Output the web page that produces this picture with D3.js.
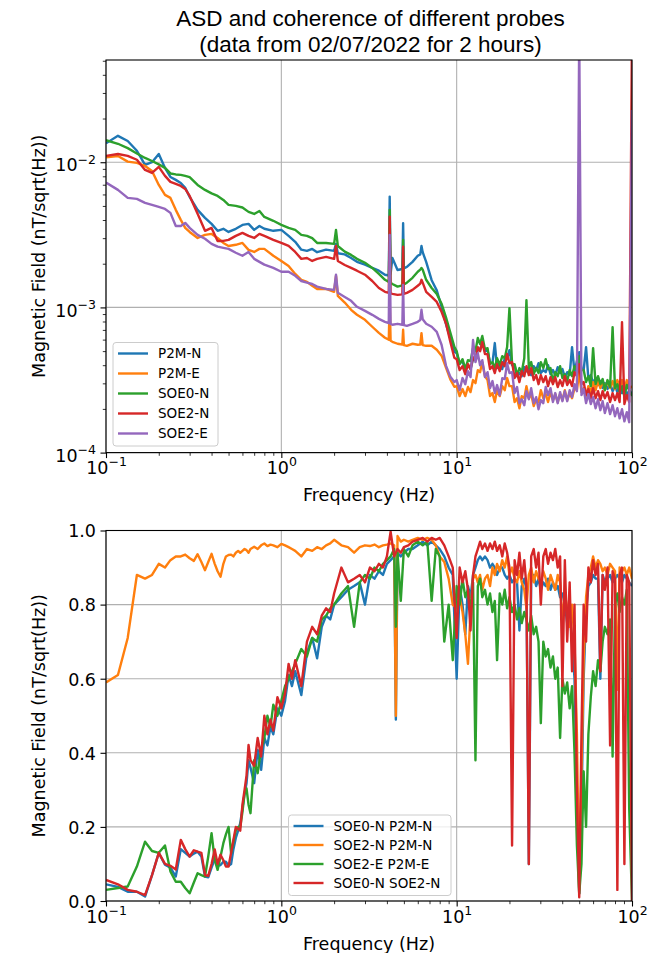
<!DOCTYPE html>
<html>
<head>
<meta charset="utf-8">
<script src="https://cdn.jsdelivr.net/npm/d3@7"></script>
<style>
  body { margin: 0; background: #fff; }
  .axis text { font-family: "DejaVu Sans", sans-serif; font-size: 17.5px; fill: #000; }
  .axis line { stroke: #000; }
  .grid line { stroke: #b0b0b0; stroke-width: 1.1px; }
  .axis_label { font-family: "DejaVu Sans", sans-serif; font-size: 17.5px; }
  .legend_label { font-family: "DejaVu Sans", sans-serif; font-size: 13.5px; }
  .title { font-family: "Liberation Sans", Arial, sans-serif; font-size: 22.5px; }
</style>
</head>
<body>
<script>
var margin = {left: 106, right: 27};
var width = 659 - margin.left - margin.right;
var topPanel = {top: 60, height: 392.6};
var botPanel = {top: 530.5, height: 370.5};

var colors = ["#1f77b4", "#ff7f0e", "#2ca02c", "#d62728", "#9467bd"];
var xTicks = [0.1, 1, 10, 100];
var asdTicks = [1e-4, 1e-3, 1e-2];
var cohTicks = [0, 0.2, 0.4, 0.6, 0.8, 1.0];

//ASD panel data (nT/sqrt(Hz))
var asdNames = ["P2M-N", "P2M-E", "SOE0-N", "SOE2-N", "SOE2-E"];
var asdFreq = [0.1, 0.117, 0.133, 0.15, 0.167, 0.183, 0.2, 0.217, 0.233, 0.25,
  0.267, 0.283, 0.3, 0.333, 0.367, 0.4, 0.433, 0.467, 0.5, 0.55,
  0.6, 0.65, 0.7, 0.75, 0.8, 0.9, 1.0, 1.1, 1.2, 1.3,
  1.4, 1.5, 1.6, 1.8, 2.0, 2.05, 2.1, 2.3, 2.5, 2.7,
  3.0, 3.3, 3.6, 3.9, 4.1, 4.15, 4.2, 4.3, 4.6, 4.9,
  4.95, 5.0, 5.2, 5.6, 6.0, 6.2, 6.3, 6.4, 6.7, 7.2,
  7.7, 8.2, 8.7, 9.2, 9.7,
  10, 10.4, 10.8, 11.2, 11.6, 12.0, 12.4, 12.8, 13.2, 13.6,
  14.0, 14.5, 15.0, 15.5, 16.0, 16.5, 17.0, 17.6, 18.2, 18.8,
  19.4, 20.0, 20.7, 21.4, 22.1, 22.8, 23.5, 24.3, 25.0, 25.8,
  26.6, 27.5, 28.4, 29.3, 30.2, 31.2, 32.2, 33.2, 34.3, 35.4,
  36.5, 37.7, 38.9, 40.1, 41.4, 42.7, 44.1, 45.5, 47.0, 48.5,
  50.0, 51.5, 53.0, 54.7, 56.4, 58.2, 60.0, 62.0, 64.0, 66.0,
  68.0, 70.0, 72.5, 75.0, 77.5, 80.0, 82.5, 85.0, 87.7, 90.5,
  93.4, 96.4, 100];
var asdP2MN = [0.0135, 0.0152, 0.0140, 0.0120, 0.00958, 0.0100, 0.0114, 0.00914, 0.00792, 0.00756,
  0.00720, 0.00666, 0.00577, 0.00470, 0.00414, 0.00376, 0.00337, 0.00348, 0.00331, 0.00348,
  0.00370, 0.00376, 0.00342, 0.00364, 0.00348, 0.00337, 0.00342, 0.00311, 0.00283, 0.00250,
  0.00245, 0.00253, 0.00240, 0.00250, 0.00245, 0.00274, 0.00236, 0.00232, 0.00219, 0.00206,
  0.00197, 0.00187, 0.00179, 0.00168, 0.00166, 0.00580, 0.00170, 0.00219, 0.00181, 0.00184,
  0.00380, 0.00186, 0.00190, 0.00206, 0.00227, 0.00232, 0.00265, 0.00240, 0.00206, 0.00154,
  0.00131, 0.00101, 0.000763, 0.000612, 0.000495,
  4.84e-4, 4.13e-4, 4.27e-4, 3.70e-4, 4.00e-4, 3.76e-4, 4.40e-4, 4.33e-4, 5.16e-4, 5.08e-4,
  5.77e-4, 5.00e-4, 5.08e-4, 4.13e-4, 4.13e-4, 5.68e-4, 3.82e-4, 4.07e-4, 3.76e-4, 4.47e-4,
  4.47e-4, 5.08e-4, 4.00e-4, 4.00e-4, 3.36e-4, 3.53e-4, 3.36e-4, 3.88e-4, 3.64e-4, 3.82e-4,
  3.42e-4, 3.94e-4, 3.70e-4, 4.13e-4, 3.53e-4, 3.70e-4, 3.58e-4, 4.00e-4, 3.47e-4, 3.70e-4,
  3.42e-4, 3.88e-4, 3.53e-4, 3.76e-4, 3.31e-4, 3.58e-4, 3.42e-4, 5.33e-4, 3.58e-4, 4.27e-4,
  4.92e-4, 3.76e-4, 3.70e-4, 5.33e-4, 3.21e-4, 3.42e-4, 3.01e-4, 3.26e-4, 2.92e-4, 3.11e-4,
  2.78e-4, 3.01e-4, 2.74e-4, 3.01e-4, 2.65e-4, 2.87e-4, 2.61e-4, 2.92e-4, 2.57e-4, 2.78e-4,
  2.49e-4, 2.69e-4, 2.53e-4];
var asdP2ME = [0.0108, 0.01105, 0.0101, 0.0099, 0.00943, 0.00871, 0.00698, 0.00596, 0.00568, 0.00470,
  0.00401, 0.00353, 0.00331, 0.00301, 0.00316, 0.00321, 0.00301, 0.00278, 0.00265, 0.00270,
  0.00278, 0.00249, 0.00241, 0.00253, 0.00253, 0.00227, 0.00209, 0.00193, 0.00170, 0.00155,
  0.00150, 0.00141, 0.00134, 0.00134, 0.00128, 0.00165, 0.00120, 0.00108, 0.000963, 0.000890,
  0.000822, 0.000736, 0.000668, 0.000618, 0.000600, 0.00113, 0.000590, 0.000580, 0.000562, 0.000555,
  0.000701, 0.000550, 0.000544, 0.000562, 0.000553, 0.000555, 0.000665, 0.000550, 0.000544, 0.000544,
  0.000511, 0.000465, 0.000384, 0.000319, 0.000284,
  2.87e-4, 2.45e-4, 2.74e-4, 2.45e-4, 2.83e-4, 2.61e-4, 3.16e-4, 3.01e-4, 3.70e-4, 3.58e-4,
  4.20e-4, 3.36e-4, 3.16e-4, 2.45e-4, 2.57e-4, 2.23e-4, 2.69e-4, 2.45e-4, 2.87e-4, 2.69e-4,
  3.26e-4, 2.87e-4, 2.87e-4, 2.23e-4, 2.37e-4, 2.02e-4, 2.45e-4, 2.37e-4, 2.87e-4, 2.37e-4,
  2.53e-4, 2.09e-4, 2.33e-4, 2.23e-4, 2.69e-4, 2.37e-4, 2.53e-4, 2.23e-4, 2.61e-4, 2.30e-4,
  2.53e-4, 2.23e-4, 2.53e-4, 2.30e-4, 2.69e-4, 2.30e-4, 2.57e-4, 2.37e-4, 2.78e-4, 2.69e-4,
  3.58e-4, 2.61e-4, 2.78e-4, 2.45e-4, 2.87e-4, 2.61e-4, 3.06e-4, 2.69e-4, 3.11e-4, 2.78e-4,
  3.11e-4, 2.69e-4, 3.11e-4, 2.78e-4, 3.11e-4, 2.74e-4, 3.16e-4, 2.83e-4, 3.16e-4, 2.74e-4,
  3.16e-4, 2.74e-4, 2.87e-4];
var asdSOE0N = [0.0142, 0.0134, 0.0125, 0.0115, 0.0107, 0.0102, 0.00966, 0.00914, 0.00837, 0.00824,
  0.00818, 0.00805, 0.00790, 0.00698, 0.00645, 0.00610, 0.00586, 0.00550, 0.00509, 0.00500,
  0.00488, 0.00455, 0.00440, 0.00462, 0.00420, 0.00395, 0.00370, 0.00353, 0.00342, 0.00316,
  0.00311, 0.00300, 0.00278, 0.00278, 0.00274, 0.00342, 0.00265, 0.00242, 0.00230, 0.00216,
  0.00203, 0.00187, 0.00170, 0.00155, 0.00150, 0.00470, 0.00148, 0.00145, 0.00139, 0.00142,
  0.00292, 0.00144, 0.00148, 0.00160, 0.00176, 0.00182, 0.00187, 0.00182, 0.00155, 0.00136,
  0.00124, 0.00106, 0.00085, 0.00067, 0.000535,
  5.00e-4, 4.07e-4, 4.40e-4, 3.76e-4, 4.33e-4, 4.27e-4, 5.24e-4, 5.00e-4, 6.16e-4, 5.59e-4,
  6.36e-4, 5.16e-4, 5.24e-4, 4.07e-4, 4.20e-4, 3.82e-4, 4.47e-4, 4.00e-4, 4.62e-4, 4.47e-4,
  5.33e-4, 9.89e-4, 4.07e-4, 4.07e-4, 3.42e-4, 3.82e-4, 3.58e-4, 4.47e-4, 11.2e-4, 3.82e-4,
  4.20e-4, 3.47e-4, 3.82e-4, 3.53e-4, 4.20e-4, 3.82e-4, 4.40e-4, 3.76e-4, 3.82e-4, 3.06e-4,
  3.58e-4, 3.36e-4, 3.94e-4, 3.26e-4, 3.47e-4, 3.11e-4, 3.70e-4, 3.36e-4, 3.94e-4, 3.70e-4,
  4.62e-4, 3.70e-4, 3.70e-4, 3.06e-4, 3.36e-4, 2.87e-4, 5.24e-4, 2.96e-4, 3.36e-4, 2.96e-4,
  3.21e-4, 2.69e-4, 3.16e-4, 2.83e-4, 7.32e-4, 2.78e-4, 2.96e-4, 2.61e-4, 2.87e-4, 2.45e-4,
  2.92e-4, 2.69e-4, 2.45e-4];
var asdSOE2N = [0.01105, 0.0114, 0.01105, 0.0104, 0.00885, 0.00844, 0.00929, 0.00805, 0.00732, 0.00710,
  0.00687, 0.00655, 0.00586, 0.00441, 0.00337, 0.00353, 0.00287, 0.00287, 0.00292, 0.00311,
  0.00326, 0.00311, 0.00301, 0.00321, 0.00311, 0.00292, 0.00278, 0.00265, 0.00241, 0.00216,
  0.00219, 0.00209, 0.00216, 0.00223, 0.00216, 0.00265, 0.00209, 0.00196, 0.00187, 0.00179,
  0.00168, 0.00152, 0.00136, 0.00128, 0.00126, 0.00422, 0.00125, 0.00124, 0.00122, 0.00123,
  0.00262, 0.00124, 0.00126, 0.00132, 0.00141, 0.00146, 0.00155, 0.00148, 0.00128, 0.00118,
  0.00109, 0.000933, 0.000771, 0.000580, 0.000450,
  4.40e-4, 3.70e-4, 3.94e-4, 3.47e-4, 4.07e-4, 3.76e-4, 4.54e-4, 4.33e-4, 5.33e-4, 5.00e-4,
  5.77e-4, 4.77e-4, 4.77e-4, 3.76e-4, 3.94e-4, 3.53e-4, 4.07e-4, 3.64e-4, 4.20e-4, 3.94e-4,
  4.77e-4, 4.13e-4, 4.20e-4, 3.26e-4, 3.53e-4, 3.06e-4, 3.64e-4, 3.36e-4, 3.94e-4, 3.42e-4,
  3.82e-4, 3.16e-4, 3.42e-4, 2.96e-4, 3.42e-4, 3.06e-4, 3.36e-4, 2.87e-4, 3.31e-4, 2.96e-4,
  3.31e-4, 2.83e-4, 3.16e-4, 2.87e-4, 3.36e-4, 2.92e-4, 3.16e-4, 2.87e-4, 3.58e-4, 3.36e-4,
  4.07e-4, 2.96e-4, 3.06e-4, 2.49e-4, 2.74e-4, 2.37e-4, 2.78e-4, 2.37e-4, 2.65e-4, 2.30e-4,
  2.65e-4, 2.37e-4, 2.61e-4, 2.23e-4, 2.57e-4, 2.30e-4, 2.57e-4, 2.23e-4, 7.92e-4, 2.16e-4,
  2.49e-4, 2.23e-4, 0.08];
var asdSOE2E = [0.00724, 0.00645, 0.00568, 0.00559, 0.00525, 0.00508, 0.00492, 0.00477, 0.00448, 0.00364,
  0.00364, 0.00382, 0.00353, 0.00316, 0.00297, 0.00274, 0.00262, 0.00257, 0.00253, 0.00238,
  0.00227, 0.00241, 0.00216, 0.00206, 0.00197, 0.00187, 0.00176, 0.00176, 0.00165, 0.00152,
  0.00148, 0.00145, 0.00139, 0.00134, 0.00132, 0.00168, 0.00126, 0.00118, 0.00111, 0.00101,
  0.000947, 0.000889, 0.000834, 0.000796, 0.00078, 0.00316, 0.00077, 0.000759, 0.000771, 0.00076,
  0.00143, 0.000755, 0.000747, 0.000771, 0.000796, 0.00082, 0.000963, 0.00083, 0.000771, 0.000736,
  0.000678, 0.000553, 0.000396, 0.000333, 0.000306,
  3.16e-4, 2.69e-4, 3.26e-4, 2.96e-4, 3.64e-4, 3.31e-4, 5.96e-4, 4.20e-4, 4.84e-4, 4.00e-4,
  4.33e-4, 3.31e-4, 3.58e-4, 2.78e-4, 3.11e-4, 2.57e-4, 2.92e-4, 2.49e-4, 3.26e-4, 3.21e-4,
  4.13e-4, 3.53e-4, 3.58e-4, 2.57e-4, 2.83e-4, 2.19e-4, 2.33e-4, 2.12e-4, 2.65e-4, 2.33e-4,
  2.78e-4, 2.19e-4, 2.41e-4, 1.99e-4, 2.30e-4, 2.19e-4, 2.83e-4, 2.49e-4, 2.78e-4, 2.23e-4,
  2.57e-4, 2.19e-4, 2.61e-4, 2.26e-4, 2.65e-4, 2.26e-4, 2.69e-4, 2.41e-4, 2.96e-4, 2.65e-4,
  0.08, 2.49e-4, 2.74e-4, 2.19e-4, 2.53e-4, 2.16e-4, 2.41e-4, 2.02e-4, 2.33e-4, 1.96e-4,
  2.26e-4, 1.87e-4, 2.19e-4, 1.84e-4, 2.12e-4, 1.78e-4, 2.02e-4, 1.72e-4, 1.99e-4, 1.64e-4,
  1.90e-4, 1.62e-4, 0.0229];

//Coherence panel data
var cohNames = ["SOE0-N P2M-N", "SOE2-N P2M-N", "SOE2-E P2M-E", "SOE0-N SOE2-N"];
var cohFreq = [0.1, 0.117, 0.133, 0.15, 0.167, 0.183, 0.2, 0.217, 0.233, 0.25,
  0.267, 0.283, 0.3, 0.317, 0.333, 0.35, 0.367, 0.383, 0.4, 0.417,
  0.433, 0.45, 0.467, 0.483, 0.5, 0.517, 0.533, 0.55, 0.567, 0.583,
  0.6, 0.617, 0.633, 0.65, 0.667, 0.7, 0.733, 0.767, 0.8, 0.833,
  0.867, 0.9, 0.95, 1.0, 1.05, 1.1, 1.15, 1.2, 1.3, 1.4,
  1.5, 1.6, 1.7, 1.8, 1.9, 2.0, 2.2, 2.4, 2.6, 2.8,
  3.0, 3.2, 3.4, 3.6, 3.8, 4.0, 4.2, 4.4, 4.5, 4.6,
  4.8, 5.0, 5.3, 5.6, 6.0, 6.4, 6.8, 7.2, 7.6, 8.0,
  8.5, 9.0, 9.5,
  10, 10.4, 10.8, 11.2, 11.6, 12.0, 12.4, 12.8, 13.2, 13.6,
  14.0, 14.5, 15.0, 15.5, 16.0, 16.5, 17.0, 17.6, 18.2, 18.8,
  19.4, 20.0, 20.7, 21.4, 22.1, 22.8, 23.5, 24.3, 25.0, 25.8,
  26.6, 27.5, 28.4, 29.3, 30.2, 31.2, 32.2, 33.2, 34.3, 35.4,
  36.5, 37.7, 38.9, 40.1, 41.4, 42.7, 44.1, 45.5, 47.0, 48.5,
  50.0, 51.5, 53.0, 54.7, 56.4, 58.2, 60.0, 62.0, 64.0, 66.0,
  68.0, 70.0, 72.5, 75.0, 77.5, 80.0, 82.5, 85.0, 87.7, 90.5,
  93.4, 96.4, 100];
var cohSOE0N_P2MN = [0.045, 0.038, 0.025, 0.025, 0.012, 0.07, 0.13, 0.098, 0.09, 0.066,
  0.14, 0.13, 0.12, 0.128, 0.133, 0.12, 0.066, 0.064, 0.09, 0.113,
  0.095, 0.097, 0.106, 0.106, 0.095, 0.1, 0.14, 0.17, 0.19, 0.21,
  0.25, 0.29, 0.318, 0.38, 0.36, 0.318, 0.408, 0.354, 0.44, 0.42,
  0.47, 0.45, 0.52, 0.5, 0.54, 0.61, 0.58, 0.62, 0.556, 0.67,
  0.71, 0.655, 0.74, 0.77, 0.76, 0.8, 0.82, 0.84, 0.85, 0.86,
  0.8, 0.88, 0.87, 0.89, 0.88, 0.91, 0.92, 0.93, 0.49, 0.94,
  0.93, 0.94, 0.95, 0.95, 0.96, 0.97, 0.96, 0.97, 0.96, 0.95,
  0.93, 0.9, 0.88,
  0.6, 0.85, 0.8, 0.72, 0.85, 0.82, 0.88, 0.9, 0.92, 0.93,
  0.92, 0.93, 0.92, 0.9, 0.91, 0.9, 0.88, 0.9, 0.9, 0.88,
  0.87, 0.88, 0.86, 0.87, 0.86, 0.73, 0.85, 0.87, 0.84, 0.1,
  0.86, 0.88, 0.85, 0.87, 0.84, 0.86, 0.85, 0.87, 0.84, 0.86,
  0.84, 0.85, 0.82, 0.83, 0.8, 0.75, 0.78, 0.7, 0.6, 0.3,
  0.02, 0.25, 0.6, 0.78, 0.85, 0.86, 0.88, 0.87, 0.87, 0.6,
  0.88, 0.86, 0.87, 0.88, 0.86, 0.87, 0.88, 0.87, 0.86, 0.88,
  0.87, 0.86, 0.85];
var cohSOE2N_P2MN = [0.59, 0.61, 0.71, 0.88, 0.87, 0.88, 0.91, 0.9, 0.92, 0.93,
  0.93, 0.935, 0.925, 0.918, 0.936, 0.915, 0.893, 0.915, 0.937, 0.91,
  0.89, 0.875, 0.91, 0.93, 0.934, 0.935, 0.93, 0.94, 0.945, 0.94,
  0.945, 0.95, 0.947, 0.94, 0.95, 0.956, 0.95, 0.96, 0.965, 0.958,
  0.962, 0.96, 0.955, 0.964, 0.96, 0.955, 0.95, 0.945, 0.93, 0.95,
  0.945, 0.955, 0.95, 0.96, 0.965, 0.975, 0.96, 0.955, 0.94, 0.955,
  0.96, 0.958, 0.962, 0.955, 0.96, 0.962, 0.965, 0.96, 0.5, 0.985,
  0.97, 0.975, 0.97, 0.975, 0.98, 0.975, 0.98, 0.975, 0.96, 0.93,
  0.915, 0.87, 0.8,
  0.79, 0.82, 0.78, 0.72, 0.64, 0.78, 0.87, 0.88, 0.86, 0.88,
  0.84, 0.87, 0.88, 0.85, 0.9, 0.88, 0.91, 0.89, 0.92, 0.9,
  0.93, 0.88, 0.9, 0.87, 0.86, 0.89, 0.86, 0.84, 0.79, 0.88,
  0.9, 0.86, 0.89, 0.87, 0.86, 0.89, 0.87, 0.84, 0.88, 0.86,
  0.84, 0.88, 0.86, 0.75, 0.83, 0.79, 0.74, 0.8, 0.7, 0.45,
  0.03, 0.35, 0.65, 0.82, 0.88, 0.9, 0.93, 0.9, 0.92, 0.91,
  0.89, 0.9, 0.88, 0.91, 0.9, 0.89, 0.57, 0.9, 0.89, 0.9,
  0.88, 0.9, 0.87];
var cohSOE2E_P2ME = [0.03, 0.035, 0.039, 0.093, 0.16, 0.135, 0.13, 0.15, 0.08, 0.052,
  0.052, 0.035, 0.021, 0.05, 0.075, 0.07, 0.066, 0.12, 0.183, 0.11,
  0.084, 0.12, 0.156, 0.18, 0.2, 0.129, 0.16, 0.19, 0.2, 0.2,
  0.24, 0.29, 0.304, 0.26, 0.237, 0.38, 0.345, 0.41, 0.44, 0.5,
  0.47, 0.53, 0.5, 0.54, 0.58, 0.6, 0.62, 0.64, 0.68, 0.66,
  0.71, 0.7, 0.76, 0.77, 0.79, 0.8, 0.83, 0.85, 0.74, 0.86,
  0.88, 0.87, 0.9, 0.89, 0.91, 0.92, 0.93, 0.95, 0.74, 0.94,
  0.81, 0.95, 0.93, 0.96, 0.97, 0.96, 0.97, 0.81, 0.95, 0.93,
  0.7, 0.8, 0.65,
  0.85, 0.8, 0.87, 0.82, 0.84, 0.78, 0.86, 0.38, 0.85, 0.87,
  0.82, 0.84, 0.8, 0.83, 0.78, 0.81, 0.65, 0.83, 0.8, 0.84,
  0.79, 0.82, 0.78, 0.8, 0.76, 0.79, 0.75, 0.78, 0.76, 0.73,
  0.77, 0.72, 0.74, 0.7, 0.48, 0.7, 0.66, 0.68, 0.63, 0.66,
  0.6, 0.63, 0.44, 0.6, 0.56, 0.59, 0.52, 0.58, 0.4, 0.15,
  0.02, 0.1, 0.35, 0.2, 0.45, 0.55, 0.62, 0.58, 0.65, 0.62,
  0.7, 0.74, 0.72, 0.76, 0.39, 0.8, 0.83, 0.78, 0.82, 0.8,
  0.84, 0.25, 0.0];
var cohSOE0N_SOE2N = [0.057, 0.045, 0.03, 0.025, 0.016, 0.07, 0.13, 0.1, 0.095, 0.085,
  0.165, 0.14, 0.12, 0.137, 0.133, 0.13, 0.07, 0.068, 0.1, 0.139,
  0.1, 0.125, 0.11, 0.093, 0.093, 0.13, 0.165, 0.2, 0.195, 0.19,
  0.26, 0.3, 0.338, 0.421, 0.38, 0.365, 0.44, 0.39, 0.5, 0.45,
  0.49, 0.46, 0.55, 0.52, 0.56, 0.64, 0.6, 0.65, 0.58, 0.7,
  0.74, 0.72, 0.77, 0.79, 0.78, 0.83, 0.9, 0.86, 0.87, 0.88,
  0.86, 0.9, 0.89, 0.91, 0.9, 0.93, 0.997, 0.93, 0.94, 0.95,
  0.94, 0.955, 0.96, 0.97, 0.975, 0.98, 0.97, 0.98, 0.975, 0.98,
  0.96, 0.93, 0.9,
  0.71, 0.9, 0.86, 0.89, 0.84, 0.73, 0.88, 0.93, 0.95, 0.97,
  0.95, 0.965, 0.945, 0.965, 0.95, 0.97, 0.945, 0.96, 0.93, 0.965,
  0.94, 0.9, 0.15, 0.92, 0.88, 0.94, 0.87, 0.92, 0.85, 0.1,
  0.93, 0.95, 0.9, 0.94, 0.8, 0.93, 0.95, 0.91, 0.94, 0.92,
  0.95, 0.9, 0.93, 0.58, 0.92, 0.7, 0.86, 0.62, 0.8, 0.3,
  0.01, 0.45, 0.8, 0.7, 0.9, 0.86, 0.92, 0.88, 0.91, 0.62,
  0.88, 0.84, 0.9, 0.42, 0.89, 0.87, 0.03, 0.88, 0.9, 0.1,
  0.88, 0.86, 0.0];

var svg = d3.select("body")
            .append("svg")
            .attr("width", 659)
            .attr("height", 953);

var xScale = d3.scaleLog().domain([0.1, 100]).range([0, width]);
var yAsd = d3.scaleLog().domain([1e-4, 0.0506]).range([topPanel.height, 0]);
var yCoh = d3.scaleLinear().domain([0, 1]).range([botPanel.height, 0]);

//minor tick positions for log axes (2..9 in each decade)
function minorTicks(lo, hi) {
  var out = [];
  for (var k = Math.floor(Math.log10(lo)); k < Math.ceil(Math.log10(hi)); k++) {
    for (var m = 2; m < 10; m++) {
      var v = m * Math.pow(10, k);
      if (v > lo * 1.0001 && v < hi * 1.0001) out.push(v);
    }
  }
  return out;
}

//write 10^n as "10" with a superscript
function powerLabel(text, baseline) {
  text.each(function(d) {
    var t = d3.select(this).text("").attr("dy", null).attr("y", baseline);
    var e = Math.round(Math.log10(d));
    t.append("tspan").text("10");
    t.append("tspan").attr("dy", -7.7).attr("font-size", "12.5px")
      .text(e < 0 ? "\u2212" + (-e) : String(e));
  });
}

function createPanel(top, h, yScale, yTicks, yMinor, freq, series, clipId) {
  var g = svg.append("g").attr("transform", "translate(" + margin.left + "," + top + ")");

  g.append("clipPath").attr("id", clipId)
    .append("rect").attr("width", width).attr("height", h);

  //grid
  g.append("g").attr("class", "grid").selectAll("line")
    .data(xTicks).enter().append("line")
    .attr("x1", function(d) { return xScale(d); })
    .attr("x2", function(d) { return xScale(d); })
    .attr("y1", 0).attr("y2", h);
  g.append("g").attr("class", "grid").selectAll("line")
    .data(yTicks).enter().append("line")
    .attr("y1", function(d) { return yScale(d); })
    .attr("y2", function(d) { return yScale(d); })
    .attr("x1", 0).attr("x2", width);

  //curves
  var line = d3.line()
    .x(function(d, i) { return xScale(freq[i]); })
    .y(function(d) { return yScale(d); });
  g.append("g").attr("clip-path", "url(#" + clipId + ")")
    .selectAll("path").data(series).enter().append("path")
    .attr("d", function(d) { return line(d); })
    .attr("fill", "none")
    .attr("stroke", function(d, i) { return colors[i]; })
    .attr("stroke-width", 2.4)
    .attr("stroke-linejoin", "round");

  //x axis
  var xMajor = g.append("g").attr("class", "axis")
    .attr("transform", "translate(0," + h + ")")
    .call(d3.axisBottom(xScale).tickValues(xTicks).tickSize(5.5));
  xMajor.selectAll("line").attr("stroke-width", 1.1);
  xMajor.selectAll("text").call(powerLabel, 21.5);
  g.append("g").attr("class", "axis")
    .attr("transform", "translate(0," + h + ")")
    .call(d3.axisBottom(xScale).tickValues(minorTicks(0.1, 100)).tickSize(3.2).tickFormat(""))
    .selectAll("line").attr("stroke-width", 0.8);

  //y axis
  var yMajor = g.append("g").attr("class", "axis")
    .call(d3.axisLeft(yScale).tickValues(yTicks).tickSize(5.5).tickPadding(4.5)
      .tickFormat(d3.format(".1f")));
  yMajor.selectAll("line").attr("stroke-width", 1.1);
  if (yMinor) {
    yMajor.selectAll("text").call(powerLabel, 8.7);
    g.append("g").attr("class", "axis")
      .call(d3.axisLeft(yScale).tickValues(yMinor).tickSize(3.2).tickFormat(""))
      .selectAll("line").attr("stroke-width", 0.8);
  } else {
    yMajor.selectAll("text").attr("dy", "0.36em");
  }
  g.selectAll(".domain").remove();

  //spines
  g.append("rect").attr("width", width).attr("height", h)
    .attr("fill", "none").attr("stroke", "#000").attr("stroke-width", 1.1);

  //axis labels
  g.append("text").attr("class", "axis_label")
    .attr("x", width / 2).attr("y", h + 48.5)
    .attr("text-anchor", "middle")
    .text("Frequency (Hz)");
  g.append("text").attr("class", "axis_label")
    .attr("transform", "translate(" + (45 - margin.left) + "," + (h / 2) + ") rotate(-90)")
    .attr("text-anchor", "middle")
    .text("Magnetic Field (nT/sqrt(Hz))");
  return g;
}

function createLegend(x, y, w, h, rowH, names) {
  var lg = svg.append("g").attr("transform", "translate(" + x + "," + y + ")");
  lg.append("rect").attr("width", w).attr("height", h).attr("rx", 3)
    .attr("fill", "#fff").attr("fill-opacity", 0.8)
    .attr("stroke", "#cccccc").attr("stroke-width", 1);
  var item = lg.selectAll("g.item").data(names).enter().append("g")
    .attr("transform", function(d, i) { return "translate(0," + (11 + rowH * i) + ")"; });
  item.append("line").attr("x1", 5).attr("x2", 35).attr("y1", 0).attr("y2", 0)
    .attr("stroke", function(d, i) { return colors[i]; }).attr("stroke-width", 2.4);
  item.append("text").attr("class", "legend_label")
    .attr("x", 45).attr("y", 4.8).text(function(d) { return d; });
}

createPanel(topPanel.top, topPanel.height, yAsd, asdTicks, minorTicks(1e-4, 0.0506), asdFreq,
  [asdP2MN, asdP2ME, asdSOE0N, asdSOE2N, asdSOE2E], "clipTop");
createPanel(botPanel.top, botPanel.height, yCoh, cohTicks, null, cohFreq,
  [cohSOE0N_P2MN, cohSOE2N_P2MN, cohSOE2E_P2ME, cohSOE0N_SOE2N], "clipBot");

createLegend(113, 342.5, 105, 103.5, 20, asdNames);
createLegend(288.5, 815, 162.5, 80.5, 19, cohNames);

//Title
svg.append("text").attr("class", "title")
   .attr("x", 370.5).attr("y", 26).attr("text-anchor", "middle")
   .text("ASD and coherence of different probes");
svg.append("text").attr("class", "title")
   .attr("x", 370.5).attr("y", 52).attr("text-anchor", "middle")
   .text("(data from 02/07/2022 for 2 hours)");
</script>
</body>
</html>
